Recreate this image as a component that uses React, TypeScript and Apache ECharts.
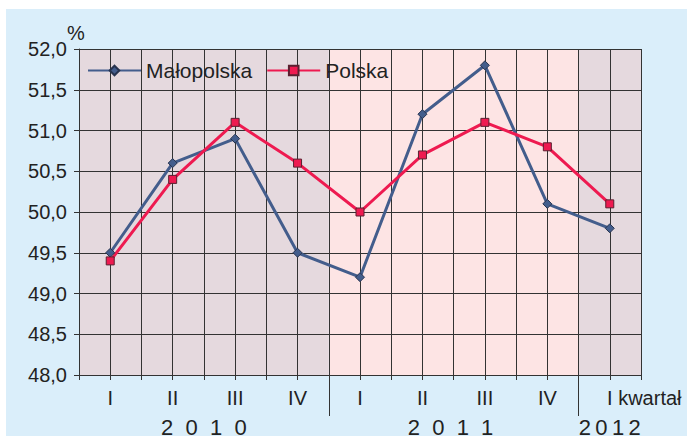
import React, { useEffect, useRef } from "react";
import * as echarts from "echarts";

const categories = ["I", "II", "III", "IV", "I", "II", "III", "IV", "I kwartał"];
const malopolska = [49.5, 50.6, 50.9, 49.5, 49.2, 51.2, 51.8, 50.1, 49.8];
const polska = [49.4, 50.4, 51.1, 50.6, 50.0, 50.7, 51.1, 50.8, 50.1];
const yearLabels = ["2  0  1  0", "2  0  1  1", "2\u20090\u20091\u20092"];
const yearCenters = [2, 5.95, 8.5];
const yearBounds = [4, 8];
// shaded bands: [start, end] in category units
const bands = [
  [0, 4, "#e5d9de"],
  [4, 8, "#fde4e4"],
  [8, 9, "#e5d9de"],
];

const FONT = "'Liberation Sans', Arial, sans-serif";
const TXT = "#222";
const GRIDC = "#333";

export default function App() {
  const ref = useRef<HTMLDivElement>(null);
  useEffect(() => {
    document.body.style.margin = "0";
    const chart = echarts.init(ref.current!, null, { renderer: "svg" });
    const option: any = {
      animation: false,
      backgroundColor: "#ffffff",
      textStyle: { fontFamily: FONT },
      graphic: [
        {
          type: "rect",
          z: -100,
          shape: { x: 6, y: 9, width: 681, height: 427 },
          style: { fill: "#daeefa" },
        },
      ],
      grid: {
        left: 79,
        top: 49,
        width: 562,
        height: 326,
        containLabel: false,
        outerBoundsMode: "none",
      },
      legend: {
        left: 87,
        top: 60,
        padding: 0,
        itemWidth: 53,
        itemHeight: 12,
        itemGap: 14,
        textStyle: { fontSize: 21, color: TXT, fontFamily: FONT },
        data: ["Małopolska", "Polska"],
      },
      xAxis: [
        {
          type: "category",
          position: "bottom",
          data: categories,
          boundaryGap: true,
          axisLine: { show: true, lineStyle: { color: GRIDC, width: 1 } },
          axisTick: { show: false },
          splitLine: { show: false },
          axisLabel: {
            interval: 0,
            fontSize: 20,
            color: TXT,
            fontFamily: FONT,
            margin: 13,
            formatter: (v: string, i: number) =>
              i === categories.length - 1 ? "{k|" + v + "}" : v,
            rich: {
              k: { fontSize: 20, color: TXT, fontFamily: FONT, padding: [0, 0, 0, 69] },
            },
          },
        },
        {
          type: "value",
          position: "bottom",
          min: 0,
          max: 9,
          interval: 0.5,
          axisLine: { show: false },
          axisTick: { show: true, length: 5, lineStyle: { color: GRIDC } },
          axisLabel: { show: false },
          splitLine: { show: true, lineStyle: { color: GRIDC, width: 1 } },
        },
        {
          type: "value",
          position: "bottom",
          min: 0,
          max: 9,
          axisLine: { show: false },
          axisTick: {
            show: true,
            length: 41,
            customValues: yearBounds,
            lineStyle: { color: GRIDC },
          },
          axisLabel: { show: false },
          splitLine: { show: false },
        },
        {
          type: "value",
          position: "bottom",
          min: 0,
          max: 9,
          axisLine: { show: false },
          axisTick: { show: false },
          splitLine: { show: false },
          axisLabel: {
            show: true,
            customValues: yearCenters,
            fontSize: 22,
            color: TXT,
            fontFamily: FONT,
            margin: 41,
            formatter: (v: number) => {
              const idx = yearCenters.indexOf(v);
              return idx >= 0 ? yearLabels[idx] : "";
            },
          },
        },
      ],
      yAxis: {
        type: "value",
        min: 48,
        max: 52,
        interval: 0.5,
        name: "%",
        nameLocation: "end",
        nameGap: 26,
        nameMoveOverlap: false,
        nameTextStyle: {
          fontSize: 20,
          color: TXT,
          fontFamily: FONT,
          align: "center",
          verticalAlign: "top",
          padding: [0, 6, 0, 0],
        },
        axisLine: { show: true, lineStyle: { color: GRIDC } },
        axisTick: { show: true, length: 5, lineStyle: { color: GRIDC } },
        splitLine: { show: true, lineStyle: { color: GRIDC, width: 1 } },
        axisLabel: {
          fontSize: 20,
          color: TXT,
          fontFamily: FONT,
          margin: 12,
          formatter: (v: number) => v.toFixed(1).replace(".", ","),
        },
      },
      series: [
        {
          type: "custom",
          xAxisIndex: 1,
          z: -5,
          silent: true,
          data: bands.map((b) => [b[0], b[1], b[2]]),
          renderItem: (params: any, api: any) => {
            const p0 = api.coord([api.value(0), 52]);
            const p1 = api.coord([api.value(1), 48]);
            return {
              type: "rect",
              shape: { x: p0[0], y: p0[1], width: p1[0] - p0[0], height: p1[1] - p0[1] },
              style: { fill: bands[params.dataIndex][2] as string },
            };
          },
        },
        {
          name: "Małopolska",
          type: "line",
          data: malopolska,
          symbol: "diamond",
          symbolSize: 9,
          lineStyle: { width: 3, color: "#435d8c" },
          itemStyle: { color: "#435d8c", borderColor: "#28344f", borderWidth: 1 },
        },
        {
          name: "Polska",
          type: "line",
          data: polska,
          symbol: "rect",
          symbolSize: 8,
          lineStyle: { width: 3, color: "#ee1a50" },
          itemStyle: { color: "#ee1a50", borderColor: "#5a2030", borderWidth: 1 },
        },
      ],
    };
    chart.setOption(option);
    return () => chart.dispose();
  }, []);
  return <div ref={ref} style={{ width: 687, height: 441 }} />;
}
